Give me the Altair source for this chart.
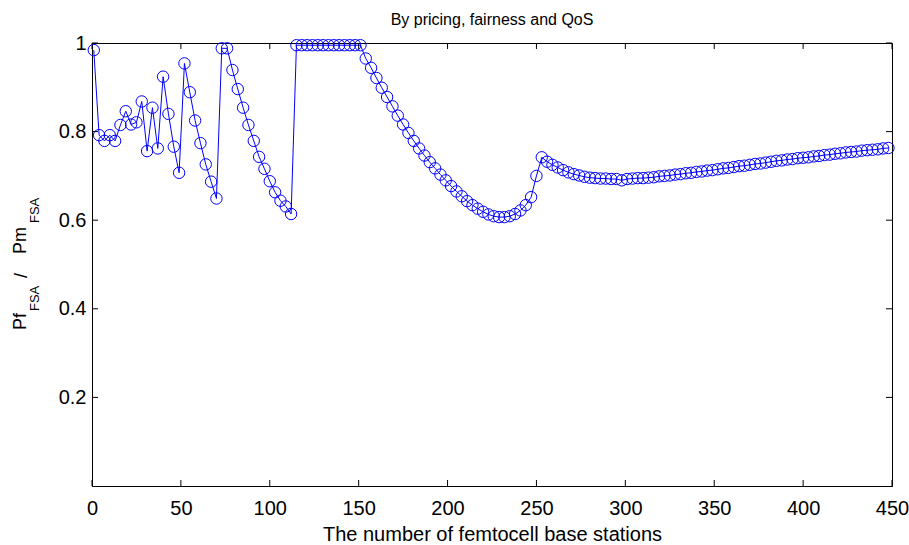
import altair as alt
import pandas as pd

# Axis tick values
x_ticks = [0, 50, 100, 150, 200, 250, 300, 350, 400, 450]
y_ticks = [0.2, 0.4, 0.6, 0.8, 1.0]

# Number of femtocell base stations (1, 4, 7, ..., 448)
stations = list(range(1, 449, 3))

# Pf_FSA / Pm_FSA, by range of station counts
ratio_1_112 = [
    0.984, 0.792, 0.779, 0.792, 0.779, 0.815, 0.846, 0.816, 0.821, 0.868,
    0.756, 0.854, 0.762, 0.924, 0.840, 0.766, 0.707, 0.954, 0.889, 0.825,
    0.774, 0.726, 0.687, 0.649, 0.988, 0.988, 0.939, 0.896, 0.854, 0.815,
    0.779, 0.743, 0.716, 0.688, 0.663, 0.644, 0.631, 0.614,
]
ratio_115_151 = [
    0.995, 0.995, 0.995, 0.995, 0.995, 0.995, 0.995, 0.995, 0.995, 0.995,
    0.995, 0.995, 0.995,
]
ratio_154_253 = [
    0.965, 0.944, 0.921, 0.899, 0.878, 0.857, 0.836, 0.816, 0.797, 0.779,
    0.762, 0.746, 0.731, 0.717, 0.703, 0.690, 0.677, 0.665, 0.654, 0.643,
    0.634, 0.626, 0.619, 0.613, 0.609, 0.607, 0.607, 0.609, 0.614, 0.622,
    0.634, 0.652, 0.700, 0.742,
]
ratio_256_448 = [
    0.732, 0.725, 0.719, 0.713, 0.708, 0.704, 0.701, 0.698, 0.696, 0.695,
    0.694, 0.694, 0.693, 0.693, 0.690, 0.693, 0.694, 0.695, 0.695, 0.696,
    0.697, 0.699, 0.700, 0.701, 0.703, 0.704, 0.706, 0.707, 0.709, 0.710,
    0.712, 0.713, 0.715, 0.717, 0.718, 0.720, 0.722, 0.723, 0.725, 0.727,
    0.728, 0.730, 0.732, 0.734, 0.735, 0.737, 0.738, 0.740, 0.741, 0.742,
    0.744, 0.745, 0.747, 0.748, 0.750, 0.751, 0.753, 0.754, 0.755, 0.757,
    0.758, 0.759, 0.760, 0.762, 0.763,
]
ratio = ratio_1_112 + ratio_115_151 + ratio_154_253 + ratio_256_448
assert len(ratio) == len(stations)

df = pd.DataFrame({"n": stations, "r": ratio})

W, H = 800, 443
FONT = "Liberation Sans"
BLUE = "#0000ff"
TICK = 6

xs = alt.Scale(domain=[0, 450], nice=False, zero=False)
ys = alt.Scale(domain=[0, 1], nice=False, zero=False)

base = alt.Chart(df)

line = base.mark_line(color=BLUE, strokeWidth=1).encode(
    x=alt.X(
        "n:Q",
        scale=xs,
        axis=alt.Axis(
            values=x_ticks,
            title="The number of femtocell base stations",
            labelPadding=12,
            titlePadding=6,
            labelFlush=False,
            labelOverlap=False,
        ),
    ),
    y=alt.Y(
        "r:Q",
        scale=ys,
        axis=alt.Axis(
            values=y_ticks,
            title=None,
            format="~g",
            labelPadding=6,
            labelFlush=False,
            labelOverlap=False,
        ),
    ),
)

markers = base.mark_point(
    shape="circle", filled=False, size=130, color=BLUE, strokeWidth=1, opacity=1
).encode(x=alt.X("n:Q", scale=xs), y=alt.Y("r:Q", scale=ys))

# Inward-pointing ticks on all four sides of the box
xt = alt.Chart(pd.DataFrame({"t": x_ticks}))
yt = alt.Chart(pd.DataFrame({"t": y_ticks}))
tick_style = dict(color="black", strokeWidth=1)
ticks_bottom = xt.mark_rule(**tick_style).encode(
    x=alt.X("t:Q", scale=xs), y=alt.value(H), y2=alt.value(H - TICK)
)
ticks_top = xt.mark_rule(**tick_style).encode(
    x=alt.X("t:Q", scale=xs), y=alt.value(0), y2=alt.value(TICK)
)
ticks_left = yt.mark_rule(**tick_style).encode(
    y=alt.Y("t:Q", scale=ys), x=alt.value(0), x2=alt.value(TICK)
)
ticks_right = yt.mark_rule(**tick_style).encode(
    y=alt.Y("t:Q", scale=ys), x=alt.value(W), x2=alt.value(W - TICK)
)

# Title above the plot
title = alt.Chart(pd.DataFrame({"s": ["By pricing, fairness and QoS"]})).mark_text(
    font=FONT, fontSize=16, color="black", align="center", baseline="middle"
).encode(text="s:N", x=alt.value(W / 2), y=alt.value(-23))

# Rotated y-axis title with subscripts: Pf_FSA / Pm_FSA
def ylabel_part(text, x, y, size):
    return alt.Chart(pd.DataFrame({"s": [text]})).mark_text(
        font=FONT, fontSize=size, color="black", angle=270,
        align="left", baseline="middle",
    ).encode(text="s:N", x=alt.value(x), y=alt.value(y))

ylab = (
    ylabel_part("Pf", -71, 287, 18)
    + ylabel_part("FSA", -57, 268, 13)
    + ylabel_part("/", -70, 235, 18)
    + ylabel_part("Pm", -71, 211, 18)
    + ylabel_part("FSA", -57, 180, 13)
)

chart = (
    alt.layer(line, markers, ticks_bottom, ticks_top, ticks_left, ticks_right, title, ylab)
    .properties(
        width=W,
        height=H,
        background="white",
        autosize=alt.AutoSizeParams(type="none"),
        padding={"left": 92, "top": 43, "right": 17, "bottom": 59},
    )
    .configure_view(stroke="black", strokeWidth=1)
    .configure_axis(
        grid=False,
        tickSize=0,
        domainColor="black",
        domainWidth=1,
        labelFont=FONT,
        labelFontSize=20,
        labelColor="black",
        titleFont=FONT,
        titleFontSize=20,
        titleFontWeight="normal",
        titleColor="black",
    )
)

chart.save("out.html", embed_options={"renderer": "svg", "actions": False})
